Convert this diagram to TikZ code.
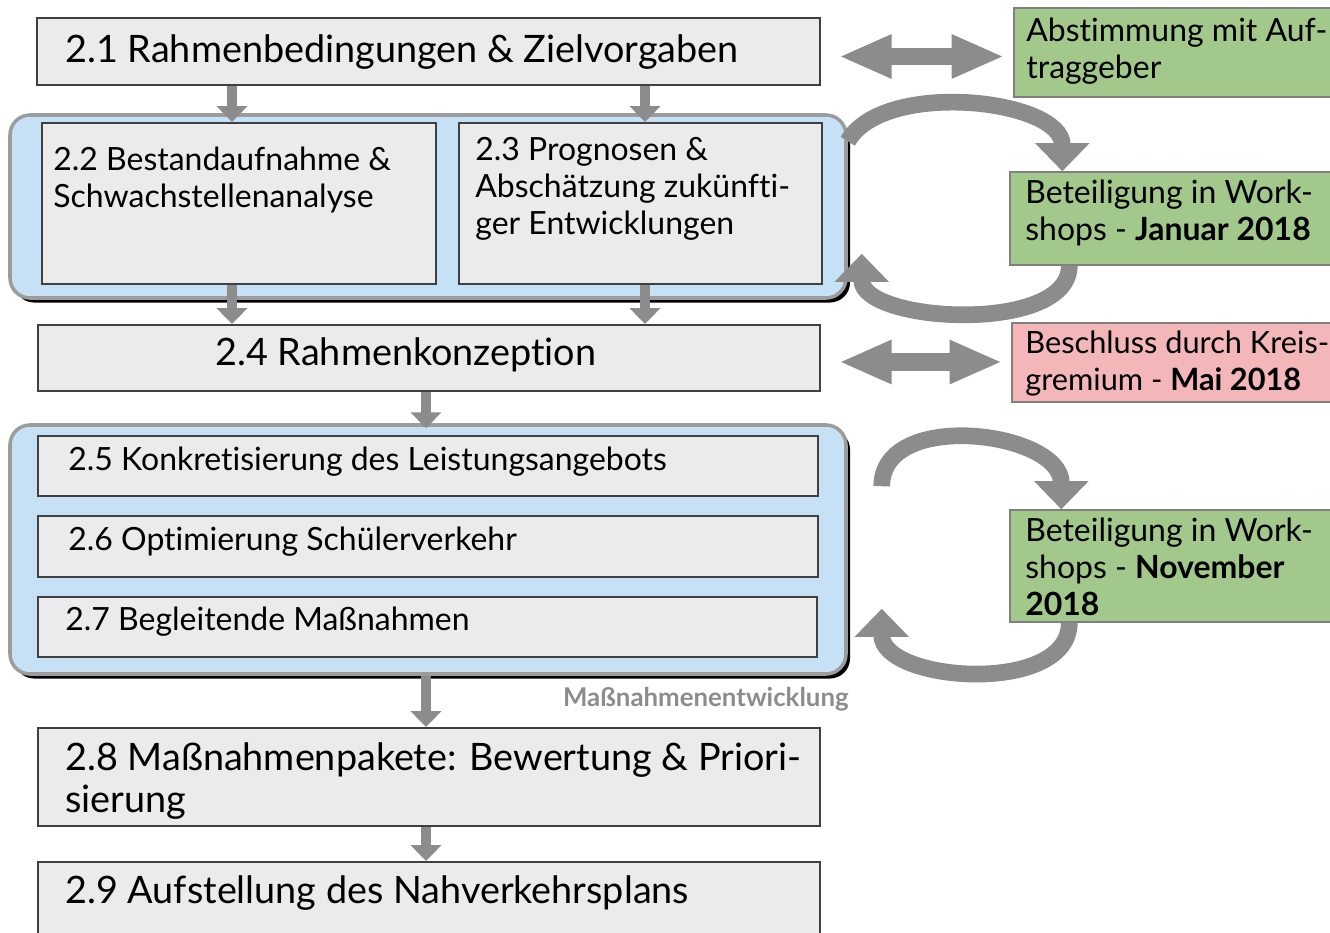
\documentclass[tikz,border=0pt]{standalone}
\usepackage{fontspec}
\setmainfont{Lato}[Ligatures=NoCommon]
\usetikzlibrary{arrows.meta,fit,shadows}

\definecolor{boxgray}{HTML}{EBEBEB}
\definecolor{groupblue}{HTML}{C6E0F5}
\definecolor{rimgray}{HTML}{9C9C9C}
\definecolor{arrowgray}{HTML}{8C8C8C}
\definecolor{notegreen}{HTML}{A2C98B}
\definecolor{notered}{HTML}{F4B7B9}

\tikzset{
  stepbox/.style={draw=black!75, line width=1.1pt, fill=boxgray, inner sep=0pt},
  groupbox/.style={draw=rimgray, line width=2pt, fill=groupblue, rounded corners=0.4cm, inner sep=0pt,
    drop shadow={shadow xshift=0.08cm, shadow yshift=-0.09cm, opacity=1, fill=black}},
  notebox/.style={draw=black!50, line width=0.8pt, inner sep=0pt},
  % multi-line texts sit on the baseline of their last line
  bigtext/.style={anchor=base west, inner sep=0pt, align=left, font=\fontsize{21.5}{23.8}\selectfont},
  midtext/.style={anchor=base west, inner sep=0pt, align=left, font=\fontsize{18.2}{21}\selectfont},
  down/.style={draw=arrowgray, line width=5.5pt, -{Triangle[width=17pt,length=9pt]}},
  both/.style={draw=arrowgray, line width=10pt, {Triangle[width=23pt,length=30pt]}-{Triangle[width=23pt,length=30pt]}},
  turn/.style={draw=arrowgray, line width=9.5pt, -{Triangle[width=30pt,length=16pt]}},
}

\begin{document}
\begin{tikzpicture}[x=0.02cm, y=-0.02cm]
\useasboundingbox (0,0) rectangle (1330,933);

% blue groups
\node[groupbox, fit={(10,115) (846,298)}] (g1) {};
\node[groupbox, fit={(10,425) (846,674)}] (g2) {};

% steps
\node[stepbox, fit={(37,18) (820,85)}] (b21) {};
\node[stepbox, fit={(42,123) (436,284)}] (b22) {};
\node[stepbox, fit={(459,123) (822,284)}] (b23) {};
\node[stepbox, fit={(38,325) (820,391)}] (b24) {};
\node[stepbox, fit={(38,436) (818,496)}] (b25) {};
\node[stepbox, fit={(38,516) (818,577)}] (b26) {};
\node[stepbox, fit={(38,597) (817,657)}] (b27) {};
\node[stepbox, fit={(38,728) (820,826)}] (b28) {};
\node[stepbox, fit={(38,862) (820,950)}] (b29) {};

\node[bigtext] (t21) at (65,62) {2.1 Rahmenbedingungen \& Zielvorgaben};
\node[midtext] (t22) at (53,207) {2.2 Bestandaufnahme \&\\Schwachstellenanalyse};
\node[midtext] (t23) at (475,234) {2.3 Prognosen \&\\Abschätzung zukünfti-\\ger Entwicklungen};
\node[bigtext] (t24) at (215,365) {2.4 Rahmenkonzeption};
\node[midtext] (t25) at (68,470) {2.5 Konkretisierung des Leistungsangebots};
\node[midtext] (t26) at (68,550) {2.6 Optimierung Schülerverkehr};
\node[midtext] (t27) at (65,630) {2.7 Begleitende Maßnahmen};
\node[bigtext] (t28) at (65,812) {2.8 Maßnahmenpakete: Bewertung \& Priori-\\sierung};
\node[bigtext] (t29) at (65,903) {2.9 Aufstellung des Nahverkehrsplans};
\node[anchor=base east, inner sep=0pt, text=black!45, font=\fontsize{14.7}{15}\selectfont\bfseries] (lbl) at (849,706) {Maßnahmenentwicklung};

% notes on the right
\node[notebox, fill=notegreen, fit={(1014,8) (1340,97)}] (n1) {};
\node[notebox, fill=notegreen, fit={(1010,172) (1340,265)}] (n2) {};
\node[notebox, fill=notered, fit={(1012,323) (1340,402)}] (n3) {};
\node[notebox, fill=notegreen, fit={(1010,510) (1340,622)}] (n4) {};

\node[midtext] (m1) at (1026,78) {Abstimmung mit Auf-\\traggeber};
\node[midtext] (m2) at (1025,240) {Beteiligung in Work-\\shops - \textbf{Januar 2018}};
\node[midtext, font=\fontsize{17.5}{21}\selectfont] (m3) at (1025,390) {Beschluss durch Kreis-\\gremium - \textbf{Mai 2018}};
\node[midtext] (m4) at (1025,615) {Beteiligung in Work-\\shops - \textbf{November}\\\textbf{2018}};

% flow
\coordinate (colL) at (232,0);
\coordinate (colR) at (645,0);
\coordinate (colM) at (426,0);
\draw[down] (b21.south -| colL) -- (b22.north -| colL);
\draw[down] (b21.south -| colR) -- (b23.north -| colR);
\draw[down] (b22.south -| colL) -- (b24.north -| colL);
\draw[down] (b23.south -| colR) -- (b24.north -| colR);
\draw[down] (b24.south -| colM) -- ([yshift=-0.1cm]g2.north -| colM);
\draw[down] (g2.south -| colM) -- (b28.north -| colM);
\draw[down] (b28.south -| colM) -- (b29.north -| colM);

\draw[both, shorten <=0.36cm, shorten >=0.18cm] ([yshift=-0.1cm]b21.east) -- ([yshift=-0.1cm]b21.east -| n1.west);
\draw[both, shorten <=0.36cm, shorten >=0.18cm] ([yshift=-0.08cm]b24.east) -- ([yshift=-0.08cm]b24.east -| n3.west);

\draw[turn] ([yshift=-0.56cm]g1.north east) to[out=60, in=90, looseness=0.85] ([xshift=1.06cm]n2.north west);
\draw[turn] ([xshift=1.2cm]n2.south west) to[out=-90, in=-90, looseness=0.85] ([xshift=0.28cm, yshift=0.92cm]g1.south east);
\draw[turn] ([xshift=0.68cm, yshift=-1.26cm]g2.north east) to[out=90, in=90, looseness=1.1] ([xshift=1.04cm]n4.north west);
\draw[turn] ([xshift=1.2cm]n4.south west) to[out=-90, in=-90] ([xshift=0.68cm, yshift=1.34cm]g2.south east);
\end{tikzpicture}
\end{document}
